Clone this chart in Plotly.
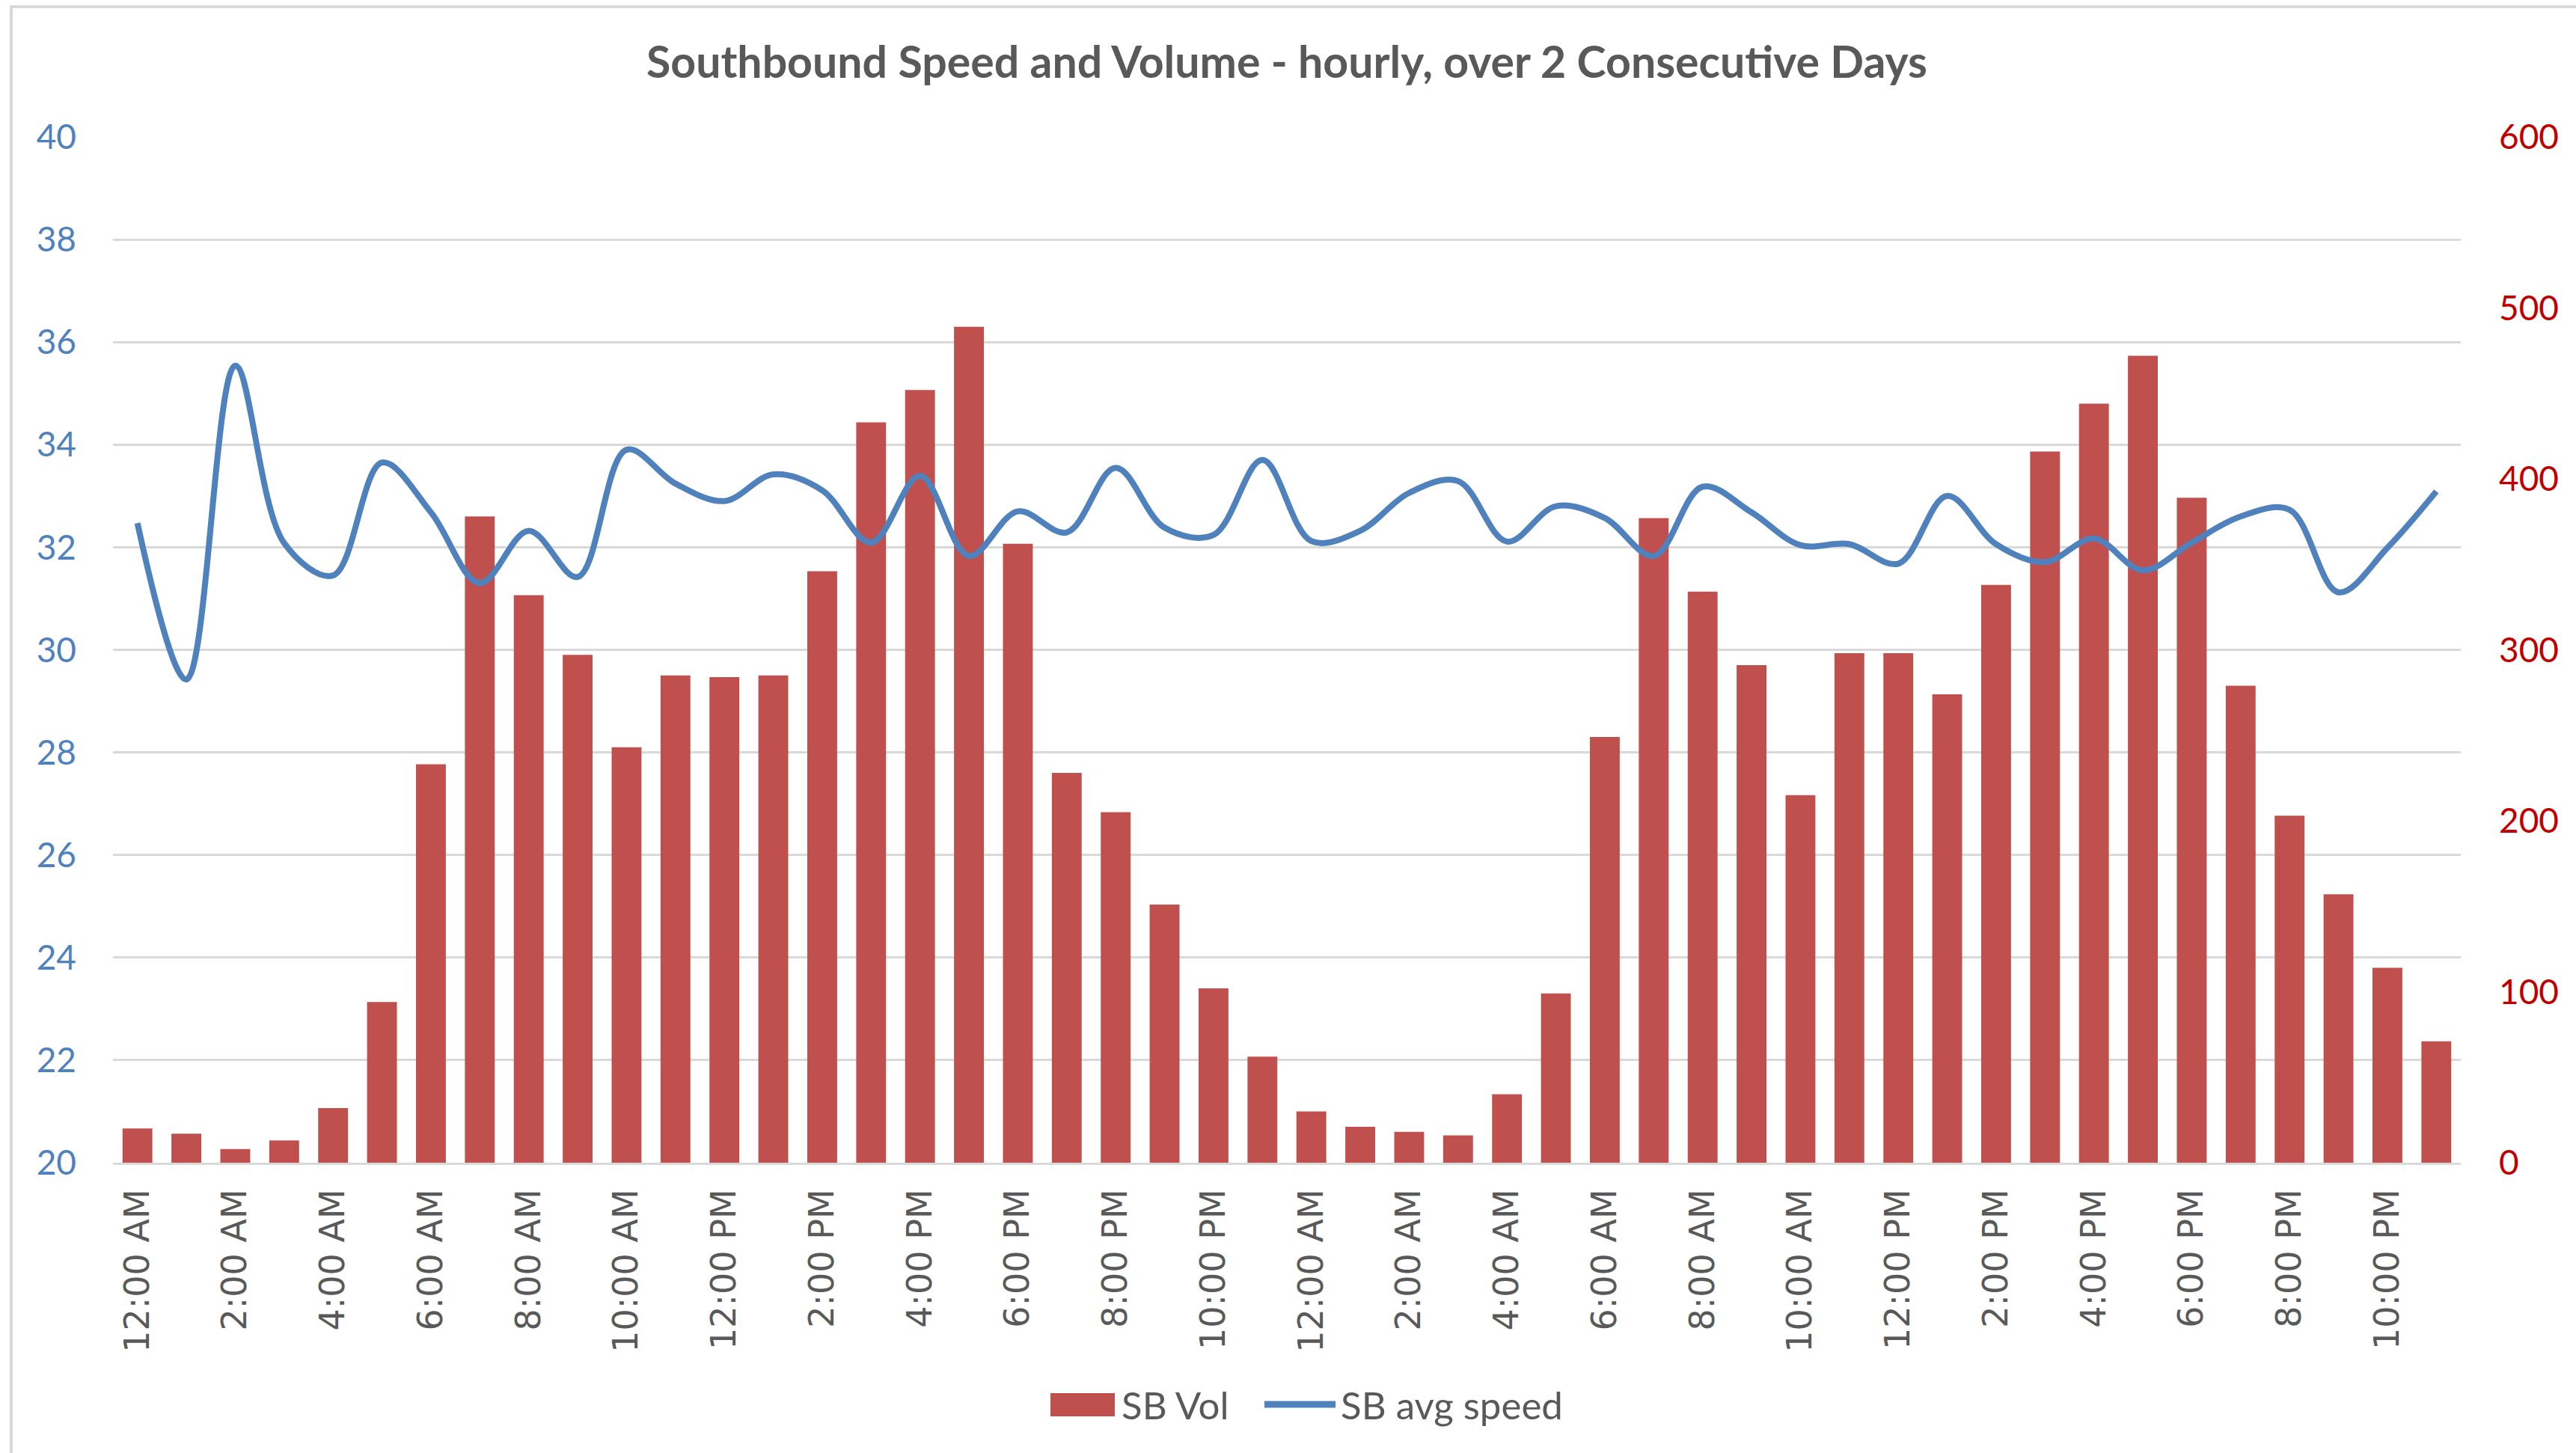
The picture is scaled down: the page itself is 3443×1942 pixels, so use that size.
import plotly.graph_objects as go

# ---- data ----
hour_labels = ["12:00 AM", "1:00 AM", "2:00 AM", "3:00 AM", "4:00 AM", "5:00 AM",
               "6:00 AM", "7:00 AM", "8:00 AM", "9:00 AM", "10:00 AM", "11:00 AM",
               "12:00 PM", "1:00 PM", "2:00 PM", "3:00 PM", "4:00 PM", "5:00 PM",
               "6:00 PM", "7:00 PM", "8:00 PM", "9:00 PM", "10:00 PM", "11:00 PM"]
time_labels = hour_labels + hour_labels  # two consecutive days
positions = list(range(len(time_labels)))

sb_vol = [20, 17, 8, 13, 32, 94, 233, 378, 332, 297, 243, 285,
          284, 285, 346, 433, 452, 489, 362, 228, 205, 151, 102, 62,
          30, 21, 18, 16, 40, 99, 249, 377, 334, 291, 215, 298,
          298, 274, 338, 416, 444, 472, 389, 279, 203, 157, 114, 71]

sb_speed = [32.47, 29.42, 35.54, 32.08, 31.45, 33.65, 32.68, 31.30, 32.32, 31.42, 33.90, 33.24,
            32.90, 33.42, 33.11, 32.09, 33.39, 31.83, 32.70, 32.29, 33.55, 32.38, 32.24, 33.70,
            32.12, 32.32, 33.06, 33.29, 32.11, 32.80, 32.57, 31.83, 33.18, 32.68, 32.04, 32.06,
            31.68, 33.00, 32.06, 31.71, 32.17, 31.55, 32.09, 32.60, 32.73, 31.12, 31.99, 33.09]

speed_ticks = [20, 22, 24, 26, 28, 30, 32, 34, 36, 38, 40]
vol_ticks = [0, 100, 200, 300, 400, 500, 600]

title_text = "Southbound Speed and Volume - hourly, over 2 Consecutive Days"
vol_name = "SB Vol"
speed_name = "SB avg speed"

# ---- styling ----
W, H = 3443, 1942
ML, MR, MT, MB = 151, 154, 183, 388
GREY_TXT = "#595959"
GRID = "#D9D9D9"
BAR_C = "#C0504D"
LINE_C = "#4F81BD"

pw = W - ML - MR
ph = H - MT - MB

def px_x(X):
    return (X - ML) / pw

def px_y(Y):
    return (H - MB - Y) / ph

fig = go.Figure()
fig.add_trace(go.Bar(
    x=positions, y=sb_vol, name=vol_name, yaxis="y",
    marker=dict(color=BAR_C, line=dict(width=0)),
))
fig.add_trace(go.Scatter(
    x=positions, y=sb_speed, name=speed_name, yaxis="y2", mode="lines",
    line=dict(color=LINE_C, width=8, shape="spline", smoothing=1.0),
))

legend_font = dict(family="Lato", size=51, color=GREY_TXT)
LEG_Y = 1877

fig.update_layout(
    width=W, height=H,
    margin=dict(l=ML, r=MR, t=MT, b=MB, pad=0),
    paper_bgcolor="white", plot_bgcolor="white",
    bargap=0.39,
    showlegend=False,
    title=dict(text=f"<b>{title_text}</b>", x=0.5, xref="paper",
               y=1 - 83 / H, yref="container", yanchor="middle", xanchor="center",
               font=dict(family="Lato", size=59, color=GREY_TXT)),
    xaxis=dict(
        range=[-0.5, len(positions) - 0.5],
        tickmode="array", tickvals=positions[::2], ticktext=time_labels[::2],
        tickangle=-90, ticks="", showgrid=False, zeroline=False,
        showline=True, linecolor=GRID, linewidth=3,
        tickfont=dict(family="DejaVu Sans", size=46, color=GREY_TXT),
        ticklabelstandoff=14,
    ),
    yaxis=dict(
        side="right", range=[0, 600], tickvals=vol_ticks,
        showgrid=False, zeroline=False, showline=False, ticks="",
        tickfont=dict(family="Lato", size=46, color="#C00000"),
        ticklabelstandoff=50,
    ),
    yaxis2=dict(
        side="left", overlaying="y", range=[20, 40], tickvals=speed_ticks,
        showgrid=True, gridcolor=GRID, gridwidth=3, zeroline=False, showline=False, ticks="",
        tickfont=dict(family="Lato", size=46, color=LINE_C),
        ticklabelstandoff=48,
    ),
    shapes=[
        dict(type="rect", xref="paper", yref="paper",
             x0=px_x(15), x1=px_x(W + 60), y0=px_y(H + 60), y1=px_y(9),
             line=dict(color=GRID, width=4), fillcolor="rgba(0,0,0,0)", layer="below"),
        # legend swatches
        dict(type="rect", xref="paper", yref="paper",
             x0=px_x(1404), x1=px_x(1490), y0=px_y(1893), y1=px_y(1862),
             line=dict(width=0), fillcolor=BAR_C),
        dict(type="line", xref="paper", yref="paper",
             x0=px_x(1690), x1=px_x(1785), y0=px_y(LEG_Y), y1=px_y(LEG_Y),
             line=dict(color=LINE_C, width=9)),
    ],
    annotations=[
        dict(text=vol_name, xref="paper", yref="paper", x=px_x(1497), y=px_y(LEG_Y),
             xanchor="left", yanchor="middle", showarrow=False, font=legend_font),
        dict(text=speed_name, xref="paper", yref="paper", x=px_x(1790), y=px_y(LEG_Y),
             xanchor="left", yanchor="middle", showarrow=False, font=legend_font),
    ],
)

fig.write_html("out.html", config={"displayModeBar": False},
               post_script="document.body.style.margin='0';")
